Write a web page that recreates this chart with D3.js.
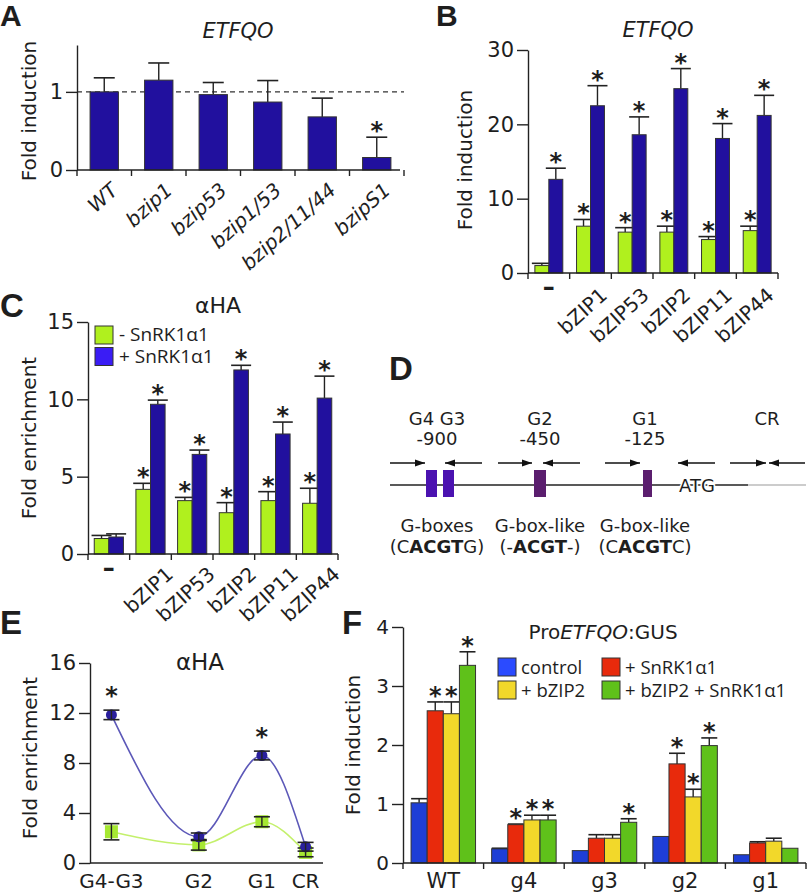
<!DOCTYPE html>
<html>
<head>
<meta charset="utf-8">
<script src="https://cdn.jsdelivr.net/npm/d3@7"></script>
<style>
  body { margin: 0; background: #fff; }
  svg text { font-family: "DejaVu Sans", sans-serif; fill: #1e1e1e; }
  .panel { font-family: "Liberation Sans", Arial, sans-serif !important; font-weight: bold; }
  .star { font-family: "DejaVu Sans", sans-serif; font-weight: bold; font-size: 24px; }
  .leg { font-family: "Open Sans", sans-serif !important; }
</style>
</head>
<body>
<svg id="fig" width="812" height="893"></svg>
<script>
// ---- panel A : ETFQO in mutants
const mutantsA = ["WT", "bzip1", "bzip53", "bzip1/53", "bzip2/11/44", "bzipS1"];
const foldA = [1.0, 1.15, 0.965, 0.87, 0.68, 0.16];
const errA = [0.18, 0.22, 0.155, 0.275, 0.24, 0.26];
const starA = [0, 0, 0, 0, 0, 1];

// ---- panel B : ETFQO with bZIPs, - / + SnRK1a1
const bzipCats = ["-", "bZIP1", "bZIP53", "bZIP2", "bZIP11", "bZIP44"];
const foldB_minus = [1.0, 6.3, 5.5, 5.5, 4.5, 5.7];
const errB_minus = [0.3, 0.9, 0.6, 0.8, 0.4, 0.6];
const starB_minus = [0, 1, 1, 1, 1, 1];
const foldB_plus = [12.6, 22.5, 18.6, 24.8, 18.1, 21.2];
const errB_plus = [1.5, 2.7, 2.4, 2.7, 2.0, 2.7];
const starB_plus = [1, 1, 1, 1, 1, 1];

// ---- panel C : ChIP aHA
const legendC = ["- SnRK1\u03b11", "+ SnRK1\u03b11"];
const foldC_minus = [1.0, 4.18, 3.45, 2.67, 3.45, 3.28];
const errC_minus = [0.2, 0.39, 0.21, 0.65, 0.58, 0.97];
const starC_minus = [0, 1, 1, 1, 1, 1];
const foldC_plus = [1.1, 9.68, 6.44, 11.9, 7.76, 10.08];
const errC_plus = [0.2, 0.27, 0.28, 0.3, 0.77, 1.42];
const starC_plus = [0, 1, 1, 1, 1, 1];

// ---- panel D : promoter scheme
const dSites = ["G4 G3", "G2", "G1", "CR"];
const dPos = ["-900", "-450", "-125", ""];
const dType = ["G-boxes", "G-box-like", "G-box-like", ""];
const dMotif = [["(C", "ACGT", "G)"], ["(-", "ACGT", "-)"], ["(C", "ACGT", "C)"], null];

// ---- panel E : ChIP along promoter
const eLabels = ["G4-G3", "G2", "G1", "CR"];
const ePos = [-900, -450, -125, 100];
const eBlue = [11.85, 2.1, 8.6, 1.3];
const eBlueErr = [0.38, 0.3, 0.35, 0.35];
const eGreen = [2.5, 1.45, 3.3, 0.85];
const eGreenErr = [0.65, 0.42, 0.4, 0.35];
const eStar = [1, 0, 1, 0];

// ---- panel F : ProETFQO:GUS
const fGroups = ["WT", "g4", "g3", "g2", "g1"];
const fSeries = ["control", "+ SnRK1\u03b11", "+ bZIP2", "+ bZIP2 + SnRK1\u03b11"];
const fControl = [1.02, 0.24, 0.21, 0.45, 0.14];
const fControlErr = [0.07, 0.01, 0, 0, 0];
const fSnrk = [2.58, 0.65, 0.42, 1.68, 0.34];
const fSnrkErr = [0.15, 0.01, 0.06, 0.18, 0.02];
const fBzip2 = [2.53, 0.73, 0.42, 1.12, 0.37];
const fBzip2Err = [0.2, 0.08, 0.06, 0.13, 0.05];
const fBoth = [3.35, 0.73, 0.69, 1.99, 0.25];
const fBothErr = [0.23, 0.08, 0.06, 0.13, 0];
const fStars = [[0,0,0,0,0], [1,1,0,1,0], [1,1,0,1,0], [1,1,1,1,0]];

const navy = "#21109e", lime = "#b0f01e";
const svg = d3.select("#fig");

// ---------- helpers
function panelLetter(t, x, y, fs) {
    svg.append("text").attr("class", "panel").attr("x", x).attr("y", y)
        .style("font-size", fs + "px").text(t);
}

function yAxis(x0, y, ticks, fs) {
    let g = svg.append("g")
        .attr("transform", "translate(" + x0 + ",0)")
        .call(d3.axisLeft(y).tickValues(ticks).tickFormat(d3.format("d"))
            .tickSize(11).tickPadding(3).tickSizeOuter(0));
    g.selectAll("path,line").attr("stroke", "#222").attr("stroke-width", 1.4);
    g.selectAll("text").attr("font-family", "DejaVu Sans").style("font-size", fs + "px").attr("fill", "#1e1e1e");
    return g;
}

function yLabel(txt, x, yc) {
    svg.append("text").attr("transform", "translate(" + x + "," + yc + ") rotate(-90)")
        .attr("text-anchor", "middle").style("font-size", "20px").text(txt);
}

// x axis line with ticks at band boundaries
function bandAxis(x, y0, x1) {
    let r = x.range();
    let end = x1 || r[1];
    svg.append("line").attr("x1", r[0]).attr("x2", end).attr("y1", y0).attr("y2", y0)
        .attr("stroke", "#222").attr("stroke-width", 1.4);
    let n = x.domain().length;
    for (let i = 0; i <= n; i++) {
        let xx = r[0] + i * x.step();
        svg.append("line").attr("x1", xx).attr("x2", xx).attr("y1", y0).attr("y2", y0 + 6)
            .attr("stroke", "#222").attr("stroke-width", 1.4);
    }
}

function errUp(cx, yBar, yErr, capW) {
    if (yBar - yErr < 0.5) return;
    svg.append("line").attr("x1", cx).attr("x2", cx).attr("y1", yBar).attr("y2", yErr)
        .attr("stroke", "#222").attr("stroke-width", 1.4);
    svg.append("line").attr("x1", cx - capW / 2).attr("x2", cx + capW / 2).attr("y1", yErr).attr("y2", yErr)
        .attr("stroke", "#222").attr("stroke-width", 1.6);
}

function star(cx, yTop) {
    svg.append("text").attr("class", "star").attr("x", cx).attr("y", yTop + 6)
        .attr("text-anchor", "middle").text("*");
}

function rotLabels(x, y0, cats, italic, dx, dy) {
    cats.forEach(function (c, i) {
        let cx = x(c) + x.bandwidth() / 2;
        if (c == "-") {
            svg.append("text").attr("x", cx).attr("y", y0 + 22).attr("text-anchor", "middle")
                .style("font-size", "24px").style("font-weight", "bold").text("\u2013");
            return;
        }
        svg.append("text")
            .attr("transform", "translate(" + (cx + dx) + "," + (y0 + dy) + ") rotate(-42)")
            .attr("text-anchor", "end").style("font-size", "20px")
            .style("font-style", italic ? "italic" : "normal").text(c);
    });
}

// ---------- panel A
panelLetter("A", 0, 26, 30);
let xA = d3.scaleBand().domain(mutantsA).range([77, 404]).paddingInner(0.48).paddingOuter(0.24);
let yA = d3.scaleLinear().domain([0, 1.6]).range([170, 45]);
svg.append("text").attr("x", 238).attr("y", 38).attr("text-anchor", "middle")
    .style("font-size", "21px").style("font-style", "italic").text("ETFQO");
svg.append("line").attr("x1", 77).attr("x2", 404).attr("y1", yA(1)).attr("y2", yA(1))
    .attr("stroke", "#333").attr("stroke-width", 1.3).attr("stroke-dasharray", "5,4");
mutantsA.forEach(function (m, i) {
    let cx = xA(m) + xA.bandwidth() / 2;
    errUp(cx, yA(foldA[i]), yA(foldA[i] + errA[i]), 21);
});
svg.selectAll(".barA").data(foldA).enter().append("rect")
    .attr("x", (d, i) => xA(mutantsA[i])).attr("y", d => yA(d))
    .attr("width", xA.bandwidth()).attr("height", d => yA(0) - yA(d))
    .attr("fill", navy).attr("stroke", "#333").attr("stroke-width", 1);
mutantsA.forEach(function (m, i) {
    if (starA[i]) star(xA(m) + xA.bandwidth() / 2, yA(foldA[i] + errA[i]) - 4);
});
yAxis(77, yA, [0, 1], 21);
bandAxis(xA, 170, 400);
yLabel("Fold induction", 36, 111);
rotLabels(xA, 170, mutantsA, true, 15, 22);

// ---------- grouped bars (B and C)
function pairChart(x, y, mins, minsE, minsS, plus, plusE, plusS) {
    let sub = d3.scaleBand().domain([0, 1]).range([0, x.bandwidth()]);
    let sets = [[mins, minsE, minsS, lime], [plus, plusE, plusS, navy]];
    sets.forEach(function (s, k) {
        bzipCats.forEach(function (c, i) {
            let bx = x(c) + sub(k);
            let cx = bx + sub.bandwidth() / 2;
            errUp(cx, y(s[0][i]), y(s[0][i] + s[1][i]), 20);
            svg.append("rect").attr("x", bx).attr("y", y(s[0][i]))
                .attr("width", sub.bandwidth()).attr("height", y(0) - y(s[0][i]))
                .attr("fill", s[3]).attr("stroke", "#333").attr("stroke-width", 1);
            if (s[2][i]) star(cx, y(s[0][i] + s[1][i]) - 4);
        });
    });
}

// ---------- panel B
panelLetter("B", 436, 26, 30);
let xB = d3.scaleBand().domain(bzipCats).range([528, 778]).paddingInner(0.33).paddingOuter(0.165);
let yB = d3.scaleLinear().domain([0, 30]).range([273, 50]);
svg.append("text").attr("x", 658).attr("y", 37).attr("text-anchor", "middle")
    .style("font-size", "21px").style("font-style", "italic").text("ETFQO");
pairChart(xB, yB, foldB_minus, errB_minus, starB_minus, foldB_plus, errB_plus, starB_plus);
yAxis(528, yB, [0, 10, 20, 30], 21);
bandAxis(xB, 273);
yLabel("Fold induction", 472, 160);
rotLabels(xB, 273, bzipCats, false, 18, 24);

// ---------- panel C
panelLetter("C", 0, 317, 33);
let xC = d3.scaleBand().domain(bzipCats).range([88, 338]).paddingInner(0.3).paddingOuter(0.15);
let yC = d3.scaleLinear().domain([0, 15]).range([554, 322]);
svg.append("text").attr("x", 218).attr("y", 313).attr("text-anchor", "middle")
    .style("font-size", "22px").text("\u03b1HA");
pairChart(xC, yC, foldC_minus, errC_minus, starC_minus, foldC_plus, errC_plus, starC_plus);
yAxis(88, yC, [0, 5, 10, 15], 21);
bandAxis(xC, 554);
yLabel("Fold enrichment", 36, 438);
rotLabels(xC, 554, bzipCats, false, 24, 22);
let legC = d3.scaleBand().domain(legendC).range([326, 369]);
legendC.forEach(function (t, i) {
    svg.append("rect").attr("x", 95).attr("y", legC(t)).attr("width", 18).attr("height", 18)
        .attr("fill", i ? "#3a1cf5" : lime).attr("stroke", "#333").attr("stroke-width", 1);
    svg.append("text").attr("class", "leg").attr("x", 119).attr("y", legC(t) + 15)
        .style("font-size", "19px").text(t);
});

// ---------- panel D
panelLetter("D", 389, 380, 33);
let xD = d3.scaleLinear().domain([0, 1, 2, 3]).range([437, 540, 645, 767]);
let lineY = 485, arrY = 463;
svg.append("defs").append("marker").attr("id", "ah").attr("viewBox", "0 0 10 10")
    .attr("refX", 10).attr("refY", 5).attr("markerWidth", 10).attr("markerHeight", 10)
    .attr("markerUnits", "userSpaceOnUse").attr("orient", "auto")
    .append("path").attr("d", "M0,1.5 L10,5 L0,8.5 Z").attr("fill", "#111");
svg.append("line").attr("x1", 390).attr("x2", 748).attr("y1", lineY).attr("y2", lineY)
    .attr("stroke", "#222").attr("stroke-width", 1.3);
svg.append("line").attr("x1", 748).attr("x2", 806).attr("y1", lineY).attr("y2", lineY)
    .attr("stroke", "#bbb").attr("stroke-width", 1.3);
// primer pairs [fwd start, fwd end, rev start, rev end] relative to site
const primerOff = [[-47, -12, 45, 8], [-42, -8, 40, 3], [-40, -5, 70, 33], [-37, -1, 38, 2]];
dSites.forEach(function (s, i) {
    let c = xD(i);
    svg.append("text").attr("x", c).attr("y", 425).attr("text-anchor", "middle").style("font-size", "18px").text(s);
    if (dPos[i]) svg.append("text").attr("x", c).attr("y", 445).attr("text-anchor", "middle").style("font-size", "18px").text(dPos[i]);
    let p = primerOff[i];
    svg.append("line").attr("x1", c + p[0]).attr("x2", c + p[1]).attr("y1", arrY).attr("y2", arrY)
        .attr("stroke", "#111").attr("stroke-width", 1.4).attr("marker-end", "url(#ah)");
    svg.append("line").attr("x1", c + p[2]).attr("x2", c + p[3]).attr("y1", arrY).attr("y2", arrY)
        .attr("stroke", "#111").attr("stroke-width", 1.4).attr("marker-end", "url(#ah)");
    if (dType[i]) {
        svg.append("text").attr("x", c).attr("y", 532).attr("text-anchor", "middle").style("font-size", "18px").text(dType[i]);
        let t = svg.append("text").attr("x", c).attr("y", 553).attr("text-anchor", "middle").style("font-size", "18px");
        dMotif[i].forEach(function (part, k) {
            t.append("tspan").style("font-weight", k == 1 ? "bold" : "normal").text(part);
        });
    }
});
// G-boxes
const boxOff = [[-11, 11], [6, 11], [-6, 12], [-2, 9]];
const boxCol = ["#4b12b0", "#4b12b0", "#5b1e6e", "#5b1e6e"];
const boxSite = [0, 0, 1, 2];
boxOff.forEach(function (b, k) {
    svg.append("rect").attr("x", xD(boxSite[k]) + b[0]).attr("y", 470).attr("width", b[1]).attr("height", 27)
        .attr("fill", boxCol[k]);
});
svg.append("text").attr("x", 697).attr("y", 492).attr("text-anchor", "middle")
    .style("font-size", "18px").attr("fill", "#2c3766").attr("stroke", "#fff").attr("stroke-width", 3)
    .attr("paint-order", "stroke").text("ATG");

// ---------- panel E
panelLetter("E", 0, 634, 33);
let xE = d3.scaleLinear().domain([-1000, 200]).range([92, 325]);
let yE = d3.scaleLinear().domain([0, 16]).range([863, 663]);
svg.append("text").attr("x", 200).attr("y", 670).attr("text-anchor", "middle")
    .style("font-size", "23px").text("\u03b1HA");
let lineE = d3.line().x((d, i) => xE(ePos[i])).y(d => yE(d)).curve(d3.curveMonotoneX);
svg.append("path").attr("d", lineE(eGreen)).attr("fill", "none").attr("stroke", "#c4f06c").attr("stroke-width", 1.6);
svg.append("path").attr("d", lineE(eBlue)).attr("fill", "none").attr("stroke", "#5c58b8").attr("stroke-width", 1.6);
function errBoth(cx, v, e) {
    svg.append("line").attr("x1", cx).attr("x2", cx).attr("y1", yE(v - e)).attr("y2", yE(v + e))
        .attr("stroke", "#222").attr("stroke-width", 1.4);
    [v - e, v + e].forEach(function (yy) {
        svg.append("line").attr("x1", cx - 8).attr("x2", cx + 8).attr("y1", yE(yy)).attr("y2", yE(yy))
            .attr("stroke", "#222").attr("stroke-width", 1.6);
    });
}
ePos.forEach(function (p, i) {
    let cx = xE(p);
    svg.append("rect").attr("x", cx - 6.5).attr("y", yE(eGreen[i]) - 6.5).attr("width", 13).attr("height", 13)
        .attr("fill", "#a6e832");
    errBoth(cx, eGreen[i], eGreenErr[i]);
    svg.append("circle").attr("cx", cx).attr("cy", yE(eBlue[i])).attr("r", 5.5).attr("fill", "#2a1f9c");
    errBoth(cx, eBlue[i], eBlueErr[i]);
    if (eStar[i]) star(cx, yE(eBlue[i] + eBlueErr[i]) - 12);
    svg.append("text").attr("x", cx).attr("y", 888).attr("text-anchor", "middle").style("font-size", "20px").text(eLabels[i]);
});
yAxis(90, yE, [0, 4, 8, 12, 16], 21);
svg.append("line").attr("x1", 90).attr("x2", 323).attr("y1", 863).attr("y2", 863)
    .attr("stroke", "#222").attr("stroke-width", 1.4);
yLabel("Fold enrichment", 37, 758);

// ---------- panel F
panelLetter("F", 342, 634, 33);
let xF = d3.scaleBand().domain(fGroups).range([403, 806]).paddingInner(0.2).paddingOuter(0.1);
let subF = d3.scaleBand().domain(fSeries).range([0, xF.bandwidth()]);
let yF = d3.scaleLinear().domain([0, 4]).range([863, 627]);
const fVals = [fControl, fSnrk, fBzip2, fBoth];
const fErrs = [fControlErr, fSnrkErr, fBzip2Err, fBothErr];
const fCols = ["#1e3ed6", "#e82a0c", "#f2d82a", "#5fc11a"];
const fLegCols = ["#2b4bff", "#e82a0c", "#f2d82a", "#5fc11a"];
fSeries.forEach(function (s, k) {
    fGroups.forEach(function (g, i) {
        let bx = xF(g) + subF(s);
        let cx = bx + subF.bandwidth() / 2;
        let v = fVals[k][i], e = fErrs[k][i];
        errUp(cx, yF(v), yF(v + e), 16);
        svg.append("rect").attr("x", bx).attr("y", yF(v)).attr("width", subF.bandwidth())
            .attr("height", yF(0) - yF(v)).attr("fill", fCols[k]).attr("stroke", "#333").attr("stroke-width", 1);
        if (fStars[k][i]) star(cx, yF(v + e) - 4);
    });
});
yAxis(403, yF, [0, 1, 2, 3, 4], 20);
bandAxis(xF, 863);
fGroups.forEach(function (g) {
    svg.append("text").attr("x", xF(g) + xF.bandwidth() / 2).attr("y", 888).attr("text-anchor", "middle")
        .style("font-size", "21px").text(g);
});
yLabel("Fold induction", 360, 745);
let tF = svg.append("text").attr("x", 603).attr("y", 639).attr("text-anchor", "middle").style("font-size", "20px");
tF.append("tspan").text("Pro");
tF.append("tspan").style("font-style", "italic").text("ETFQO");
tF.append("tspan").text(":GUS");
// legend: two columns (control, + bZIP2) | (+ SnRK1a1, + bZIP2 + SnRK1a1)
const legOrder = [0, 2, 1, 3];
legOrder.forEach(function (k, j) {
    let lx = j < 2 ? 498 : 602;
    let ly = (j % 2) ? 681 : 658;
    svg.append("rect").attr("x", lx).attr("y", ly).attr("width", 18).attr("height", 18)
        .attr("fill", fLegCols[k]).attr("stroke", "#333").attr("stroke-width", 1);
    svg.append("text").attr("class", "leg").attr("x", lx + 23).attr("y", ly + 16)
        .style("font-size", "18.5px").text(fSeries[k]);
});
</script>
</body>
</html>
